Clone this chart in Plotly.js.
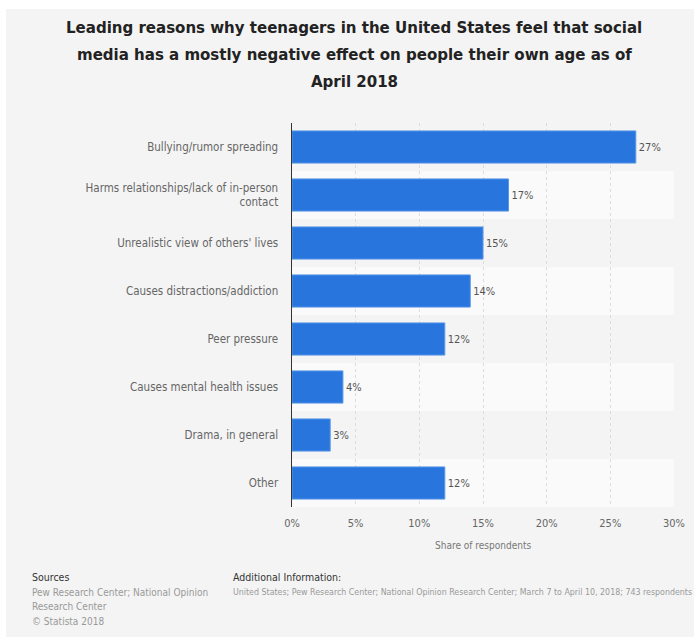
<!DOCTYPE html>
<html>
<head>
<meta charset="utf-8">
<script src="https://cdn.plot.ly/plotly-3.0.1.min.js"></script>
<style>
html,body{margin:0;padding:0;background:#fff;overflow:hidden;width:694px;height:637px;}
#chart{position:absolute;left:6px;top:9px;width:688px;height:628px;}
</style>
</head>
<body>
<div id="chart"></div>
<script>
const categories = [
  "Bullying/rumor spreading",
  "Harms relationships/lack of in-person<br>contact",
  "Unrealistic view of others' lives",
  "Causes distractions/addiction",
  "Peer pressure",
  "Causes mental health issues",
  "Drama, in general",
  "Other"
];
const values = [27, 17, 15, 14, 12, 4, 3, 12];
const xTickVals = [0, 5, 10, 15, 20, 25, 30];
const xTickText = ["0%", "5%", "10%", "15%", "20%", "25%", "30%"];
const titleLines = [
  "Leading reasons why teenagers in the United States feel that social",
  "media has a mostly negative effect on people their own age as of",
  "April 2018"
];
const sourceLines = ["Pew Research Center; National Opinion", "Research Center", "© Statista 2018"];
const additionalInfo = "United States; Pew Research Center; National Opinion Research Center; March 7 to April 10, 2018; 743 respondents";

const W = 688, H = 628, L = 286, R = 20, T = 114, B = 130;
const pw = W - L - R, ph = H - T - B;
// convert page pixel coords to paper coords
const px = x => (x - 6 - L) / pw;
const py = y => 1 - (y - 9 - T) / ph;

const FONT = "DejaVu Sans Condensed, DejaVu Sans, sans-serif";

const trace = {
  type: "bar",
  orientation: "h",
  y: categories,
  x: values,
  text: values.map(v => v + "%"),
  textposition: "outside",
  cliponaxis: false,
  textfont: {family: FONT, size: 11, color: "#555"},
  marker: {color: "#2876dd", line: {color: "#5a97e8", width: 1}},
  hoverinfo: "none"
};

const shapes = [];
categories.forEach((c, i) => {
  if (i % 2 === 1) {
    shapes.push({type: "rect", xref: "paper", yref: "y", x0: 0, x1: 1, y0: i - 0.5, y1: i + 0.5,
      fillcolor: "#fafafa", line: {width: 0}, layer: "below"});
  }
});

const annotations = [];
titleLines.forEach((t, i) => {
  annotations.push({xref: "paper", yref: "paper", x: px(354), y: py(27 + i * 27), text: "<b>" + t + "</b>",
    showarrow: false, xanchor: "center", yanchor: "middle",
    font: {family: FONT, size: 16.7, color: "#222"}});
});
annotations.push({xref: "paper", yref: "paper", x: px(483), y: py(545), text: "Share of respondents",
  showarrow: false, xanchor: "center", yanchor: "middle", font: {family: FONT, size: 10, color: "#777"}});
annotations.push({xref: "paper", yref: "paper", x: px(30), y: py(577), text: "Sources",
  showarrow: false, xanchor: "left", yanchor: "middle", font: {family: FONT, size: 10.5, color: "#333"}});
sourceLines.forEach((t, i) => {
  annotations.push({xref: "paper", yref: "paper", x: px(30), y: py(592 + i * 14.5), text: t,
    showarrow: false, xanchor: "left", yanchor: "middle", font: {family: FONT, size: 10, color: "#999"}});
});
annotations.push({xref: "paper", yref: "paper", x: px(231), y: py(577), text: "Additional Information:",
  showarrow: false, xanchor: "left", yanchor: "middle", font: {family: FONT, size: 10.5, color: "#333"}});
annotations.push({xref: "paper", yref: "paper", x: px(231), y: py(592), text: additionalInfo,
  showarrow: false, xanchor: "left", yanchor: "middle", font: {family: FONT, size: 8.8, color: "#999"}});

const layout = {
  width: W, height: H,
  margin: {l: L, r: R, t: T, b: B, pad: 0},
  paper_bgcolor: "#f4f4f4",
  plot_bgcolor: "#f4f4f4",
  showlegend: false,
  bargap: 0.33,
  xaxis: {
    range: [0, 30], tickvals: xTickVals, ticktext: xTickText,
    showgrid: true, gridcolor: "#dcdcdc", griddash: "dot", gridwidth: 1,
    zeroline: false, showline: false, ticks: "", ticklabelstandoff: 8,
    tickfont: {family: FONT, size: 11, color: "#666"}, fixedrange: true
  },
  yaxis: {
    autorange: "reversed", showgrid: false, zeroline: false,
    showline: true, linecolor: "#333", linewidth: 1.5,
    ticks: "", ticklabelstandoff: 10,
    tickfont: {family: FONT, size: 11.5, color: "#666"}, fixedrange: true
  },
  shapes: shapes,
  annotations: annotations
};

Plotly.newPlot("chart", [trace], layout, {displayModeBar: false, staticPlot: true});
</script>
</body>
</html>
